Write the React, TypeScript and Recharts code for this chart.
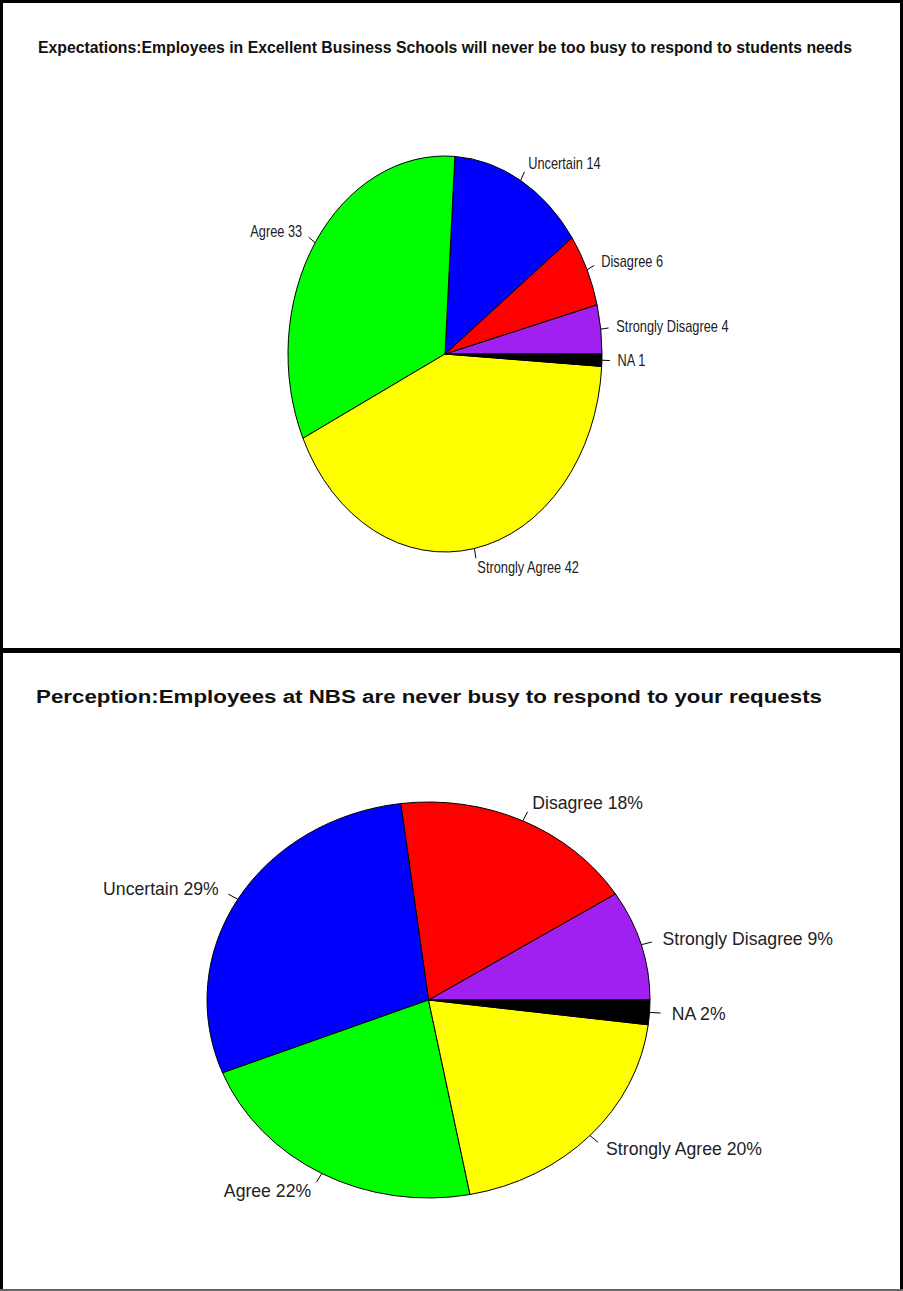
import React from "react";
import { PieChart, Pie, Cell, Sector } from "recharts";

const topNames = ["Strongly Disagree", "Disagree", "Uncertain", "Agree", "Strongly Agree", "NA"];
const topValues = [4, 6, 14, 33, 42, 1];
const bottomNames = ["Strongly Disagree", "Disagree", "Uncertain", "Agree", "Strongly Agree", "NA"];
const bottomValues = [9, 18, 29, 22, 20, 2];
const sliceColors = ["#A020F0", "#FF0000", "#0000FF", "#00FF00", "#FFFF00", "#000000"];
const topTitle = "Expectations:Employees in Excellent Business Schools will never be too busy to respond to students needs";
const bottomTitle = "Perception:Employees at NBS are never busy to respond to your requests";

const topData = topNames.map((n, i) => ({ name: n, value: topValues[i], label: `${n} ${topValues[i]}` }));
const bottomData = bottomNames.map((n, i) => ({ name: n, value: bottomValues[i], label: `${n} ${bottomValues[i]}%` }));

const FONT = "'Liberation Sans', Arial, Helvetica, sans-serif";
const RAD = Math.PI / 180;
const NO_MARGIN = { top: 0, right: 0, bottom: 0, left: 0 };

const makeShape = (sx: number) => (props: any) => {
  const { cx, cy } = props;
  return (
    <g transform={`translate(${cx} ${cy}) scale(${sx} 1) translate(${-cx} ${-cy})`}>
      <Sector {...props} stroke="#000" strokeWidth={1} vectorEffect="non-scaling-stroke" />
    </g>
  );
};

const makeLabel = (sx: number, fontSize: number, condense: number) => (props: any) => {
  const { cx, cy, midAngle, outerRadius, payload, index } = props;
  const c = Math.cos(-midAngle * RAD);
  const s = Math.sin(-midAngle * RAD);
  const x1 = cx + sx * outerRadius * c;
  const y1 = cy + outerRadius * s;
  const x2 = cx + sx * outerRadius * 1.05 * c;
  const y2 = cy + outerRadius * 1.05 * s;
  const tx = cx + sx * outerRadius * 1.1 * c;
  const ty = cy + outerRadius * 1.1 * s;
  const text = payload && payload.label ? payload.label : props.label;
  return (
    <g key={`lbl-${index}`}>
      <line x1={x1} y1={y1} x2={x2} y2={y2} stroke="#000" strokeWidth={1} />
      <g transform={`translate(${tx} ${ty}) scale(${condense} 1)`}>
        <text
          x={0}
          y={0}
          textAnchor={c >= 0 ? "start" : "end"}
          dominantBaseline="central"
          fontFamily={FONT}
          fontSize={fontSize}
          fill="#222"
        >
          {text}
        </text>
      </g>
    </g>
  );
};

const topShape = makeShape(157 / 198);
const bottomShape = makeShape(221.5 / 198);
const TITLE_SX = 0.86;

export default function App() {
  return (
    <div style={{ position: "absolute", left: 0, top: 0, width: 903, height: 1291, background: "#fff", overflow: "hidden" }}>
      {/* borders */}
      <div style={{ position: "absolute", left: 0, top: 0, width: 903, height: 3, background: "#000" }} />
      <div style={{ position: "absolute", left: 0, top: 0, width: 3, height: 1291, background: "#000" }} />
      <div style={{ position: "absolute", left: 900, top: 0, width: 3, height: 1291, background: "#000" }} />
      <div style={{ position: "absolute", left: 0, top: 648, width: 903, height: 5, background: "#000" }} />
      <div style={{ position: "absolute", left: 0, top: 1289, width: 903, height: 2, background: "#666" }} />

      <svg style={{ position: "absolute", left: 0, top: 0 }} width={903} height={80}>
        <g transform={`translate(38 53) scale(${TITLE_SX} 1)`}>
          <text x={0} y={0} fontFamily={FONT} fontWeight="bold" fontSize={17} textLength={814 / TITLE_SX} lengthAdjust="spacingAndGlyphs" fill="#111">
            {topTitle}
          </text>
        </g>
      </svg>
      <svg style={{ position: "absolute", left: 0, top: 653 }} width={903} height={70}>
        <text x={36} y={50} fontFamily={FONT} fontWeight="bold" fontSize={18} textLength={786} lengthAdjust="spacingAndGlyphs" fill="#111">
          {bottomTitle}
        </text>
      </svg>

      <div style={{ position: "absolute", left: 0, top: 80 }}>
        <PieChart width={903} height={560} margin={NO_MARGIN}>
          <Pie
            data={topData}
            dataKey="value"
            nameKey="name"
            cx={445}
            cy={274}
            outerRadius={198}
            startAngle={0}
            endAngle={360}
            stroke="#000"
            isAnimationActive={false}
            shape={topShape}
            activeShape={topShape}
            inactiveShape={topShape}
            labelLine={false}
            label={makeLabel(157 / 198, 16, 0.8)}
          >
            {topData.map((d, i) => (
              <Cell key={d.name} fill={sliceColors[i]} />
            ))}
          </Pie>
        </PieChart>
      </div>

      <div style={{ position: "absolute", left: 0, top: 723 }}>
        <PieChart width={903} height={560} margin={NO_MARGIN}>
          <Pie
            data={bottomData}
            dataKey="value"
            nameKey="name"
            cx={428.5}
            cy={277}
            outerRadius={198}
            startAngle={0}
            endAngle={360}
            stroke="#000"
            isAnimationActive={false}
            shape={bottomShape}
            activeShape={bottomShape}
            inactiveShape={bottomShape}
            labelLine={false}
            label={makeLabel(221.5 / 198, 18, 0.98)}
          >
            {bottomData.map((d, i) => (
              <Cell key={d.name} fill={sliceColors[i]} />
            ))}
          </Pie>
        </PieChart>
      </div>
    </div>
  );
}
